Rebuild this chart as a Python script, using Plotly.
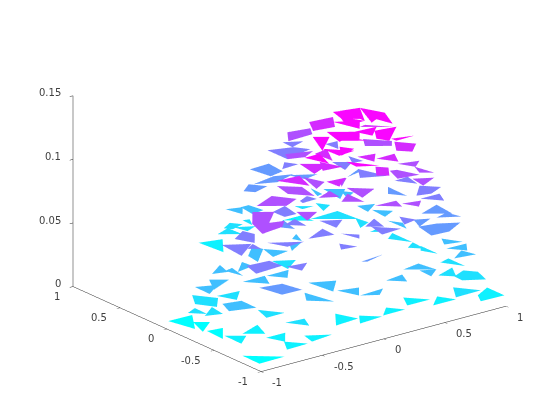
import plotly.graph_objects as go

# Each patch: vertices (x, y) plus one height.
patch_x = [
[-.92,-.715,-.923],[-.911,-.72,-.862],[-.794,-.707,-.856],[-.824,-.708,-.832],[.011,.174,.032],
[-.904,-.791,-.907],[-.789,-.611,-.671],[-.712,-.558,-.659],[-.664,-.564,-.739],[-.493,-.338,-.52],
[-.086,-.024,-.216],[.014,.121,-.071],[.138,.243,.319],[.444,.56,.375],[.508,.63,.694],[.852,.993,.991,.799],
[.684,.794,.586],[.813,.927,.995,.943,.809],[.741,.903,.823],[.899,.99,.995],[.369,.514,.539],[.44,.539,.434],
[.157,.307,.254],[-.145,.052,-.038],[-.208,-.061,-.151],[-.267,-.1,-.239],[-.399,-.346,-.479],
[-.865,-.702,-.667,-.826],[-.574,-.431,-.485],[-.572,-.467,-.616],[-.945,-.813,-.815,-.995],[-.625,-.451,-.567],
[-.742,-.642,-.748,-.828],[-.966,-.874,-.879],[-.912,-.775,-.796],[-.898,-.757,-.9],[-.742,-.639,-.829],
[-.663,-.521,-.558],[-.562,-.492,-.525],[-.594,-.413,-.478],[-.508,-.374,-.363],[-.404,-.223,-.319],
[.052,.186,.044],[-.707,-.554,-.67],[-.901,-.727,-.716,-.94],[-.793,-.628,-.814],[-.659,-.528,-.5,-.601],
[.074,.193,.203],[.264,.316,.208,.173],[.235,.359,.262],[.36,.407,.355],[.136,.246,.167],[.236,.3,.32,.219],
[-.626,-.513,-.812,-.761],[-.537,-.347,-.252,-.383],[-.16,-.03,-.06,-.154],[-.766,-.562,-.64,-.821],
[-.09,.02,-.02],[-.244,-.125,-.142],[.694,.842,.85],[.721,.95,.968],[-.399,-.291,-.443],[-.019,.11,-.011],
[-.279,-.094,-.1],[-.052,.03,-.015],[-.534,-.333,-.476],[.142,.219,.17],[.785,.883,.792],[.927,.995,.878],
[.103,.195,.213,.095],[-.441,-.267,-.327],[-.208,-.09,-.126,-.241],[.141,.246,.32,.192],[.271,.464,.59,.417],
[.42,.581,.567,.449],[.371,.46,.509],[.508,.676,.74,.51],[.193,.371,.262,.152],[.675,.794,.67],
[.451,.614,.557,.355],[.388,.567,.466,.308],[.334,.507,.394,.301],[.078,.248,.032],[-.05,.037,-.157],
[.875,.971,.886],[-.135,.006,-.127],[.058,.176,.072],[-.328,-.206,-.267],[-.132,.022,-.168],[-.006,.056,-.092],
[.707,.81,.684],[-.195,-.052,-.184],[.026,.083,-.037],[-.128,.008,-.009],[.865,.978,.839],[-.055,.066,.063],
[.129,.262,.098],[.848,.964,.837],[.88,.977,.868],[.954,.952,.875],[.964,.996,.877],[.883,.995,.97],
[.896,.99,.996],[.898,.99,.974],[.931,.995,.995],[.826,.985,.911],[.755,.881,.913],[.913,.995,.86],
[.64,.767,.901,.743,.606],[.802,.98,.961],[.834,.941,.974],[.437,.49,.373],[.693,.791,.645],[.838,.892,.846],
[.149,.285,.247],[.18,.311,.147],[.075,.239,.203],[.236,.368,.289],[.748,.902,.848],[.761,.889,.996,.861],
[.931,.928,.852],[.93,.996,.887],[.817,.929,.901],[.569,.693,.547],[.834,.981,.996],[.762,.832,.671],
[.226,.282,.197,.13],[.542,.589,.651,.493],[.715,.75,.673],[.661,.808,.72],[.321,.47,.4],[.245,.372,.276],
[-.157,-.032,-.162],[.749,.777,.696],[.858,.879,.8],[-.024,.03,-.115],[.604,.694,.584,.513],[.333,.485,.336],
[.763,.889,.833,.694],[.336,.494,.3,.256],[.222,.391,.27],[.1,.188,.044],[.382,.519,.398],[.519,.592,.412],
[.472,.592,.509],[.314,.398,.249],[.593,.642,.763],[.064,.248,.147],[.222,.372,.282],[-.175,-.116,-.233],
[-.047,.14,-.016],[-.275,-.141,-.119,-.292],[-.119,-.013,-.158],[-.705,-.623,-.633],[.053,.16,.007],
[.809,.803,.755],[.552,.712,.594],[.194,.241,.114],
]
patch_y = [
[-.657,-.836,-.835],[.124,.113,-.093],[.012,-.055,-.166],[-.169,-.19,-.343],[.964,.908,.723],
[-.45,-.536,-.628],[-.493,-.427,-.583],[-.643,-.649,-.773],[-.769,-.891,-.892],[-.765,-.861,-.879],
[-.581,-.74,-.751],[-.704,-.808,-.819],[-.798,-.699,-.801],[-.627,-.761,-.754],[-.856,-.747,-.863],[-.893,-.821,-.999,-.988],
[-.845,-.997,-.996],[-.697,-.649,-.726,-.865,-.783],[-.62,-.564,-.705],[-.448,-.422,-.596],[-.721,-.697,-.851],[-.798,-.851,-.928],
[-.806,-.786,-.903],[-.912,-.905,-.995],[-.752,-.796,-.907],[-.527,-.609,-.75],[-.651,-.894,-.77],
[-.762,-.797,-.959,-.949],[-.671,-.691,-.807],[-.381,-.529,-.527],[-.48,-.513,-.669,-.609],[-.025,-.046,-.159],
[.086,-.058,-.178,-.051],[-.147,-.106,-.236],[-.256,-.159,-.299],[-.135,-.197,-.291],[-.089,-.168,-.248],
[-.021,.073,-.056],[-.031,-.017,-.171],[-.254,-.257,-.388],[-.096,.027,-.072],[-.265,-.268,-.376],
[.244,.164,.07],[-.844,-.872,-.984],[-.673,-.694,-.814,-.823],[-.283,-.387,-.515],[-.252,-.172,-.262,-.386],
[.835,.879,.737],[.99,.875,.845,.894],[.869,.797,.759],[.931,.917,.823],[.829,.79,.693],[.798,.795,.666,.654],
[-.394,-.48,-.746,-.56],[-.327,-.247,-.387,-.445],[-.026,.01,-.148,-.142],[-.579,-.646,-.721,-.739],
[.017,.09,-.082],[-.254,-.21,-.354],[.99,.966,.801],[.678,.683,.489],[-.567,-.65,-.735],[-.336,-.412,-.5],
[-.542,-.458,-.589],[-.602,-.687,-.742],[-.436,-.567,-.57],[.149,.202,.082],[.921,.846,.848],[.88,.797,.738],
[.02,.061,-.019,-.02],[-.415,-.436,-.614],[-.129,-.241,-.417,-.283],[.65,.727,.625,.589],[.708,.74,.69,.642],
[.931,.943,.773,.751],[.535,.624,.541],[.858,.798,.703,.654],[.284,.216,.163,.203],[.91,.841,.802],
[.581,.546,.455,.452],[.278,.253,.107,.137],[-.035,-.099,-.238,-.167],[-.289,-.419,-.479],[-.303,-.37,-.536],
[.713,.708,.593],[-.509,-.663,-.673],[-.19,-.168,-.358],[-.563,-.567,-.744],[-.27,-.388,-.468],[-.321,-.48,-.458],
[.435,.356,.273],[-.625,-.645,-.745],[-.106,-.261,-.327],[-.46,-.406,-.529],[.722,.636,.516],[-.606,-.519,-.696],
[-.431,-.555,-.633],[.352,.309,.226],[.237,.14,.089],[.657,.501,.56],[.514,.4,.355],[.261,.283,.194],
[.093,.156,-.051],[-.11,-.055,-.191],[-.203,-.135,-.317],[-.599,-.609,-.71],[-.768,-.685,-.799],[-.44,-.57,-.535],
[-.541,-.57,-.651,-.732,-.717],[-.372,-.306,-.494],[-.487,-.457,-.571],[-.595,-.704,-.726],[-.424,-.477,-.545],[.022,-.065,-.164],
[-.599,-.523,-.674],[-.623,-.769,-.777],[-.795,-.809,-.915],[-.873,-.906,-.982],[-.428,-.434,-.55],[-.37,-.243,-.347,-.401],
[.135,-.065,.038],[.627,.554,.502],[-.075,-.071,-.207],[-.566,-.638,-.706],[.435,.503,.463],[.236,.025,.103],
[-.61,-.675,-.79,-.739],[-.365,-.379,-.538,-.507],[-.407,-.569,-.51],[-.299,-.343,-.412],[-.503,-.505,-.631],[-.4,-.429,-.536],
[-.784,-.969,-.892],[.404,.337,.287],[.455,.327,.342],[-.548,-.635,-.681],[-.337,-.451,-.547,-.47],[-.642,-.69,-.69],
[.185,.043,-.026,.08],[-.464,-.495,-.662,-.583],[-.399,-.416,-.525],[-.395,-.574,-.464],[-.048,-.085,-.285],[-.085,-.252,-.34],
[-.297,-.252,-.437],[-.132,-.285,-.285],[.008,.016,-.122],[-.368,-.419,-.543],[-.174,-.266,-.377],[-.733,-.846,-.824],
[-.803,-.789,-.827],[.086,.209,.124,-.036],[.124,-.002,-.026],[-.442,-.393,-.497],[.06,.068,-.017],
[.787,.657,.648],[.695,.595,.573],[-.279,-.293,-.398],
]
patch_z = [
0,0,0,0,.008,.008,.008,.008,.008,.008,.008,.008,.008,.008,.008,.008,
.017,.017,.017,.017,.035,.035,.035,.035,.035,.035,.035,.055,.017,.017,.035,.017,
.017,.017,.017,.035,.035,.035,.035,.035,.035,.035,.017,.07,.07,.07,.07,
.017,.017,.017,.017,.035,.035,.095,.095,.07,.095,.055,.07,.008,.017,.095,.07,
.07,.07,.07,.035,.017,.017,.07,.115,.095,.055,.055,.055,.07,.07,.095,.07,
.095,.115,.135,.135,.135,.07,.135,.115,.135,.115,.115,.07,.115,.095,.095,.035,.095,
.095,.035,.035,.017,.017,.017,.017,.017,.017,.035,.035,.035,
.055,.055,.055,.07,.055,.035,.07,.07,.095,.095,.07,.07,.055,.035,.07,.095,.055,.07,
.115,.095,.095,.095,.115,.115,.135,.07,.07,.135,.115,.135,.095,.135,.135,.135,.135,.135,
.135,.135,.115,.135,.135,.07,.055,.035,.035,.07,.035,.035,.055,.095,
]
tick_x = [-1, -0.5, 0, 0.5, 1]
tick_z = [0, 0.05, 0.1, 0.15]
lab_x = ["-1", "-0.5", "0", "0.5", "1"]
lab_z = ["0", "0.05", "0.1", "0.15"]

def clamp(v):
    return max(-0.999, min(0.999, v))

X, Y, Z, I, J, K = [], [], [], [], [], []
for px, py, pz in zip(patch_x, patch_y, patch_z):
    base = len(X)
    # The readings were taken with a slightly off axis calibration; this corrects them.
    X += [clamp(1.004 * a + 0.004 * b + 0.011) for a, b in zip(px, py)]
    Y += [clamp(0.032 * a + 1.032 * b + 0.015) for a, b in zip(px, py)]
    Z += [pz * 1.011] * len(px)
    for m in range(1, len(px) - 1):
        I.append(base); J.append(base + m); K.append(base + m + 1)

fig = go.Figure(go.Mesh3d(
    x=X, y=Y, z=Z, i=I, j=J, k=K,
    intensity=Z, cmin=0, cmax=0.14,
    colorscale=[[0, "#00ffff"], [1, "#ff00ff"]], showscale=False, flatshading=True,
    lighting=dict(ambient=1, diffuse=0, specular=0, roughness=1, fresnel=0),
))
ax = dict(showgrid=False, showbackground=False, zeroline=False, showspikes=False,
          showline=True, linecolor="#262626", linewidth=1, ticks="inside", ticklen=4,
          tickcolor="#262626", showticklabels=False, title=dict(text=""))
font = dict(family="DejaVu Sans", size=10, color="#404040")
notes = []
for v, t in zip(tick_x, lab_x):
    notes.append(dict(x=v, y=-1, z=0, text=t, showarrow=False, font=font,
                      xanchor="left", yanchor="middle", xshift=9, yshift=-10.5))
    notes.append(dict(x=-1, y=v, z=0, text=t, showarrow=False, font=font,
                      xanchor="right", yanchor="middle", xshift=-11, yshift=-9.5))
for v, t in zip(tick_z, lab_z):
    notes.append(dict(x=-1, y=1, z=v, text=t, showarrow=False, font=font,
                      xanchor="right", yanchor="middle", xshift=-10, yshift=3))
fig.update_layout(
    width=560, height=420, margin=dict(l=0, r=0, t=0, b=0), paper_bgcolor="white",
    scene=dict(
        domain=dict(x=[0.006, 1], y=[0.08, 1]),
        xaxis=dict(ax, range=[-1, 1], tickvals=tick_x),
        yaxis=dict(ax, range=[-1, 1], tickvals=tick_x),
        zaxis=dict(ax, range=[0, 0.15], tickvals=tick_z, ticks="outside"),
        aspectmode="manual", aspectratio=dict(x=1.6, y=1.6, z=1.054),
        camera=dict(projection=dict(type="orthographic"),
                    eye=dict(x=-0.796, y=-1.036, z=0.484), center=dict(x=0, y=0, z=0)),
        annotations=notes,
    ),
)
fig.write_html("out.html")
